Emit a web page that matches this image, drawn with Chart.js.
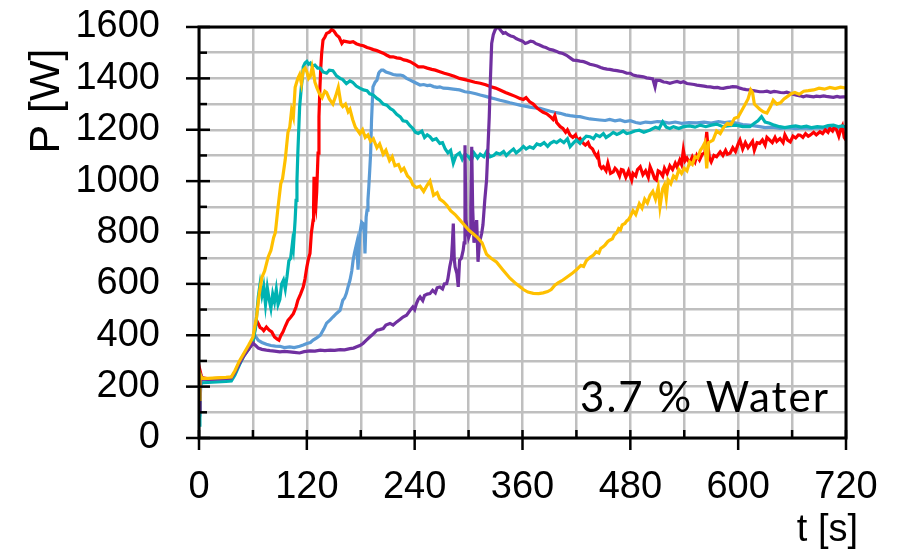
<!DOCTYPE html>
<html>
<head>
<meta charset="utf-8">
<script src="https://cdn.jsdelivr.net/npm/chart.js@4.4.1/dist/chart.umd.min.js"></script>
<style>
  body { margin: 0; background: #fff; }
  canvas { display: block; }
</style>
</head>
<body>
<canvas id="chartPower" width="905" height="553"></canvas>
<script>
// ===== Data (t in s, P in W) =====
const yellowT = [0,1,2,4,10,20,30,36,40,45,50,55,60,64,67,70,73,77,80,83,85,88,91,93,96,99,101,103,105,107,110,112,114,116,118,120,122,124,126,127,129,131,134,137,140,142,145,149,152,155,158,160,163,166,168,171,174,177,179,182,185,188,191,194,198,201,205,208,212,215,218,222,225,228,232,235,238,242,246,250,254,257,261,265,268,272,276,280,285,290,295,300,305,310,315,320,325,331,338,346,353,361,366,372,378,383,388,392,396,400,405,410,415,420,423,425,428,431,434,436,439,442,445,447,450,452,455,457,460,462,465,467,469,471,474,476,478,480,483,486,490,493,496,499,502,505,508,511,513,516,518,520,522,525,528,531,534,537,540,543,546,549,552,555,558,560,563,565,567,572,576,580,584,588,592,596,600,604,608,611,614,616,618,621,624,628,632,636,639,643,647,651,655,659,663,668,673,678,684,690,696,702,708,714,720];
const yellowP = [150,250,240,232,232,234,236,238,262,300,330,360,392,470,560,625,650,705,730,780,800,900,990,1010,1085,1190,1210,1275,1250,1365,1400,1415,1380,1432,1440,1426,1400,1410,1445,1430,1385,1365,1340,1325,1350,1345,1320,1300,1330,1365,1300,1290,1300,1270,1280,1240,1210,1195,1185,1200,1170,1180,1155,1165,1130,1145,1105,1120,1080,1095,1060,1065,1040,1050,1020,1010,985,975,980,960,985,1000,945,955,930,920,905,885,870,850,830,810,795,780,760,715,700,685,655,622,600,578,568,563,562,565,570,578,595,605,615,628,640,655,665,672,668,690,700,705,712,725,720,738,745,752,765,770,775,790,800,815,810,830,835,845,850,862,885,870,912,895,930,915,945,960,930,975,900,970,985,935,1005,990,1020,1010,1045,1030,1050,1040,1075,1065,1095,1090,1120,1130,1150,1050,1150,1160,1195,1185,1210,1225,1220,1245,1250,1275,1300,1320,1355,1345,1300,1290,1280,1270,1265,1290,1315,1300,1305,1320,1330,1340,1345,1338,1350,1352,1355,1362,1358,1365,1360,1366,1362];

const tealT = [0,1,2,4,10,20,30,36,40,45,50,55,60,63,66,68,70,72,74,76,78,80,82,84,86,88,90,92,94,96,98,100,102,104,105,107,108,109,110,111,112,113,114,115,116,118,120,122,124,126,129,132,135,138,142,145,149,153,157,160,164,168,171,175,179,183,187,190,194,198,201,205,209,213,216,220,224,227,231,235,238,241,244,248,251,254,257,260,264,268,271,274,277,280,283,286,290,293,296,300,303,306,310,313,317,320,324,328,331,335,339,342,346,350,353,357,361,364,368,372,376,380,384,388,391,395,398,402,406,410,413,417,420,424,428,431,435,439,442,446,450,453,457,461,465,468,472,476,480,485,490,495,502,508,512,516,520,524,528,534,539,546,552,558,564,570,576,583,590,598,605,613,618,622,626,630,635,640,646,652,658,664,670,676,682,688,694,700,706,712,716,720];
const tealP = [50,130,210,215,216,218,220,222,245,285,320,345,375,430,550,600,555,590,520,585,540,505,560,530,578,520,540,600,615,580,630,690,700,760,740,850,925,1000,1110,1200,1290,1330,1370,1400,1445,1460,1466,1455,1460,1448,1452,1440,1440,1425,1420,1432,1430,1410,1400,1395,1380,1390,1385,1370,1362,1355,1352,1340,1335,1322,1315,1300,1296,1282,1276,1260,1250,1235,1232,1215,1205,1190,1186,1195,1170,1180,1173,1160,1165,1147,1150,1125,1110,1120,1070,1100,1110,1085,1105,1095,1080,1110,1090,1105,1095,1115,1095,1100,1110,1105,1115,1100,1114,1125,1110,1121,1135,1125,1134,1128,1145,1140,1150,1135,1147,1155,1150,1160,1150,1165,1134,1150,1160,1147,1165,1175,1173,1165,1180,1173,1185,1170,1179,1190,1182,1186,1195,1185,1188,1195,1198,1190,1199,1210,1205,1231,1210,1205,1212,1205,1212,1215,1210,1218,1212,1218,1222,1212,1216,1218,1212,1212,1225,1235,1251,1230,1225,1218,1212,1208,1212,1215,1210,1214,1208,1212,1210,1216,1218,1212,1215,1210];

const blueT = [0,1,2,4,10,20,30,36,40,45,50,55,60,63,66,70,75,80,85,90,95,101,106,112,116,120,124,127,131,135,139,142,146,149,153,157,160,162,164,166,168,170,171.5,173,175.5,177,179,181,182.5,184,184.7,186,187,188,189,190,191,192,193.6,196,198,200,201,203,205,208,212.5,216,220,224,227,231,235,238,242,246,250,254,257,261,265,268,272,277,283,290,296,302,308,313,319,324,330,335,341,346,352,357,363,368,374,379.5,385,391,396,402,408,413,419,424,430,435,441,446,452,457,463,468.5,474,480,486,491,497,503,510,516,523,530,537,545,554,562,570,578,585,591,598,605,612,618,624,630,638,646.6,655,664,672,680,688,696,704,712,720];
const blueP = [90,140,240,228,225,226,228,230,255,290,325,350,385,395,380,372,365,360,358,357,352,355,352,357,362,368,372,381,390,400,425,447,460,471,485,497,536,545,563,590,614,650,692,720,758,655,797,840,835,800,718,860,887,925,980,1043,1109,1238,1367,1385,1393,1420,1426,1432,1432,1425,1420,1415,1413,1413,1410,1400,1393,1388,1381,1374,1376,1372,1374,1368,1365,1367,1362,1361,1358,1355,1348,1345,1340,1335,1330,1325,1320,1315,1310,1305,1300,1296,1292,1288,1285,1283,1278,1272,1268,1264,1258,1255,1252,1251,1246,1242,1240,1238,1236,1240,1235,1238,1232,1235,1228,1225,1230,1228,1232,1231,1226,1230,1225,1228,1227,1230,1226,1232,1228,1231,1226,1220,1218,1215,1212,1208,1210,1205,1208,1204,1207,1205,1208,1206,1209,1207,1210];

const redT = [0,1,2,3,10,20,30,36,40,45,50,55,60,62,64,66,68,70,72,75,78,81,84,87,89,91,93.5,96,99,102,105,108,110,113,116,118,120,122,123.5,125,127,127.5,128,129,130,131,132.5,133.5,134.6,135.5,136.5,138,140,142,145,147.6,150,153,156,159,161,164,168,171.5,175,179,183,187,190,194,198,201,205,209,212.5,216,220,224,228,231,235,240,244,249.5,254,259,263,268,273,278,284,290,296,302,307,313,319,324,330,335,341,346,352,357,361,364,368,372,376,379.5,383,387,391,394,396,398,402,405,408,410,413,416,419,421,424,427,430,433,435,438,440,442.6,444,446,448,450,453,455,458,461,463,465,468,470,472,475,478,481.5,483,486,488,491,494,497,500,502,505,507,509,511,513,516,518,521,524,527,530,532,535,537,539,541,543,546,549,552,554,557,560,563,565,566,568,570,573,576,580,583,586,588,591,594,597,600,602,605,608,611,613,616,618,621,624,627,630,632,635,638,641,643,646.6,650,652,655,658,661,664,667,669,672,675,678,680,684,687,691,694,697,700,702,705,707,709.6,712,714,716,718,720];
const redP = [100,130,250,235,230,232,234,236,255,295,325,345,370,420,458,445,430,426,418,432,420,413,393,385,381,398,413,435,458,470,484,510,536,560,588,620,666,700,718,797,848,900,1017,920,900,960,1109,1250,1367,1440,1497,1549,1560,1575,1580,1590,1585,1569,1560,1536,1545,1543,1540,1543,1535,1530,1527,1520,1517,1512,1508,1504,1498,1490,1484,1484,1480,1478,1472,1470,1465,1455,1445,1445,1440,1435,1432,1426,1420,1415,1408,1400,1395,1390,1385,1381,1375,1368,1362,1355,1345,1338,1330,1322,1318,1325,1309,1300,1285,1276,1268,1262,1251,1240,1255,1228,1212,1205,1190,1200,1179,1170,1180,1160,1166,1150,1140,1150,1134,1125,1110,1095,1105,1060,1050,1056,1040,1070,1030,1036,1050,1043,1020,1045,1043,1015,1040,1004,1030,1020,1045,1056,1025,1040,1015,1056,1030,1010,1004,1040,1036,1020,1050,1030,1060,1045,1070,1055,1082,1065,1121,1080,1090,1070,1095,1075,1100,1082,1105,1110,1192,1150,1090,1075,1100,1095,1114,1100,1120,1105,1109,1130,1115,1145,1160,1125,1150,1130,1140,1155,1120,1150,1147,1160,1140,1170,1160,1150,1170,1155,1166,1150,1180,1160,1153,1175,1168,1180,1179,1170,1185,1175,1179,1190,1180,1192,1185,1200,1190,1205,1195,1210,1199,1175,1200,1215,1170,1160];

const purpleT = [0,1,2,4,10,20,30,36,40,45,50,55,60,63,66,70,75,79,84,90,95,101,106,112,117,123.5,129,135,140,146,151,157,162,168,172,175.5,179,182.5,186,190,194,198,201,205,208,212.5,216,220,224,227,231,235,238,240,242,244,246,249,251,254,257,260,263,265,268,271,273,275.6,277,279,281,282,283,284,285,287,288.5,290,292,294,295,296,297,298,300,301.6,302.5,303.5,304.5,306,308,309,310.5,312,314.6,316,318,320,321.6,323,324,325.7,327.5,329.4,331,333,335,338.5,341,344,347,350,353,356,360,363,366,369,372,375,379,383,386,390,394,398,401,405,409,413,416.5,420,424,428,432,435,439,443,447,450,454,457,461,465,468,472,476,480,483,487,491,494.5,498,502,505,507.5,509,513,517,520,524,528,532,536,539,543,547,551,554,558,562,565,569,573,577,580,583.5,587,591,594,598,602,606,609,613,617,621,624,628,632,636,640,643,647,651,654,658,661,665,669,672.5,676,680,684,687,691,695,698,702,706,710,713,717,720];
const purpleP = [110,140,245,230,228,230,232,234,255,290,320,345,369,360,350,345,342,340,338,335,337,335,333,331,336,339,338,342,340,342,341,344,343,348,350,355,360,368,380,393,405,420,422,426,440,446,440,452,462,471,478,497,510,500,523,540,549,535,555,560,562,575,565,585,588,580,600,601,620,666,700,760,835,700,666,640,588,692,700,731,760,1140,850,822,780,797,900,1134,900,760,820,848,686,760,797,830,925,1004,1134,1250,1367,1536,1570,1588,1595,1601,1590,1575,1578,1570,1565,1562,1555,1550,1545,1536,1540,1545,1543,1535,1530,1523,1520,1513,1510,1505,1500,1497,1490,1480,1471,1470,1467,1465,1460,1455,1452,1448,1442,1439,1436,1435,1432,1430,1428,1426,1420,1420,1413,1410,1408,1406,1402,1400,1398,1367,1393,1392,1386,1385,1381,1385,1388,1384,1387,1380,1378,1376,1374,1372,1370,1368,1367,1364,1365,1362,1361,1364,1366,1368,1367,1362,1358,1356,1355,1352,1350,1348,1348,1350,1346,1349,1348,1345,1344,1346,1342,1338,1335,1332,1328,1332,1330,1328,1331,1329,1332,1330,1328,1326,1330,1327,1328,1328];

const tMax = 720;
const pMax = 1600;

function toPoints(ts, ps) {
    return ts.map((t, i) => ({ x: t, y: ps[i] }));
}

// ===== Frame, ticks and texts drawn on top =====
const framePlugin = {
    id: 'frame',
    afterDatasetsDraw(chart) {
        const { ctx, chartArea: a, scales: { x, y } } = chart;
        ctx.save();
        ctx.strokeStyle = '#000';
        ctx.lineWidth = 3;
        ctx.strokeRect(a.left, a.top, a.right - a.left, a.bottom - a.top);

        ctx.lineWidth = 2.5;
        // y ticks: major every 200 crosses the axis, minor only inside
        y.ticks.forEach(tk => {
            const py = y.getPixelForValue(tk.value);
            const major = tk.value % 200 === 0;
            ctx.beginPath();
            ctx.moveTo(a.left - (major ? 13 : 0), py);
            ctx.lineTo(a.left + (major ? 11 : 8), py);
            ctx.stroke();
        });
        // x ticks: major every 120, minor every 60
        x.ticks.forEach(tk => {
            const px = x.getPixelForValue(tk.value);
            const major = tk.value % 120 === 0;
            ctx.beginPath();
            ctx.moveTo(px, a.bottom - 8);
            ctx.lineTo(px, a.bottom + (major ? 12 : 0));
            ctx.stroke();
        });
        ctx.restore();
    },
    afterDraw(chart) {
        const ctx = chart.ctx;
        ctx.save();
        ctx.fillStyle = '#000';
        // axis titles
        ctx.font = '38px "Liberation Sans", Arial, sans-serif';
        ctx.textAlign = 'right';
        ctx.textBaseline = 'alphabetic';
        ctx.fillText('t [s]', 858, 541);

        ctx.save();
        ctx.font = '43px "Liberation Sans", Arial, sans-serif';
        ctx.translate(59, 101);
        ctx.rotate(-Math.PI / 2);
        ctx.textAlign = 'center';
        ctx.fillText('P [W]', 0, 0);
        ctx.restore();

        // annotation
        ctx.font = '42px Lato, "Open Sans", sans-serif';
        ctx.letterSpacing = '2px';
        ctx.textAlign = 'right';
        ctx.fillText('3.7 % Water', 830, 412);
        ctx.restore();
    }
};

function makeSet(ts, ps, color, order) {
    return {
        data: toPoints(ts, ps),
        borderColor: color,
        backgroundColor: color,
        borderWidth: 3.2,
        pointRadius: 0,
        tension: 0,
        fill: false,
        order: order
    };
}

// Chart.js adds room for half a tick label at the axis ends; keep only the layout padding
function noEdgePadding(scale) {
    scale.paddingTop = 0;
    scale.paddingBottom = 0;
    scale.paddingLeft = 0;
    scale.paddingRight = 0;
}

const ctx = document.getElementById('chartPower').getContext('2d');
const powerChart = new Chart(ctx, {
    type: 'line',
    data: {
        datasets: [
            makeSet(yellowT, yellowP, '#FFC000', 0),
            makeSet(purpleT, purpleP, '#7030A0', 1),
            makeSet(tealT, tealP, '#00B3B3', 2),
            makeSet(redT, redP, '#FF0000', 3),
            makeSet(blueT, blueP, '#5B9BD5', 4)
        ]
    },
    options: {
        responsive: false,
        animation: false,
        devicePixelRatio: 1,
        layout: { padding: { left: 0, right: 59, top: 27, bottom: 0 } },
        plugins: {
            legend: { display: false },
            tooltip: { enabled: false }
        },
        scales: {
            x: {
                type: 'linear',
                min: 0,
                max: tMax,
                grid: { color: '#BFBFBF', lineWidth: 2.5, drawTicks: false },
                border: { display: false },
                ticks: {
                    stepSize: 60,
                    autoSkip: false,
                    maxRotation: 0,
                    padding: 27,
                    color: '#000',
                    font: { family: '"Liberation Sans", Arial, sans-serif', size: 38 },
                    callback: v => (v % 120 === 0 ? String(v) : '')
                },
                afterFit(scale) { scale.height = 115; noEdgePadding(scale); }
            },
            y: {
                min: 0,
                max: pMax,
                grid: { color: '#BFBFBF', lineWidth: 2.5, drawTicks: false },
                border: { display: false },
                ticks: {
                    stepSize: 100,
                    autoSkip: false,
                    padding: 39,
                    color: '#000',
                    font: { family: '"Liberation Sans", Arial, sans-serif', size: 38 },
                    callback: v => (v % 200 === 0 ? String(v) : '')
                },
                afterFit(scale) { scale.width = 199; noEdgePadding(scale); }
            }
        }
    },
    plugins: [framePlugin]
});
</script>
</body>
</html>
